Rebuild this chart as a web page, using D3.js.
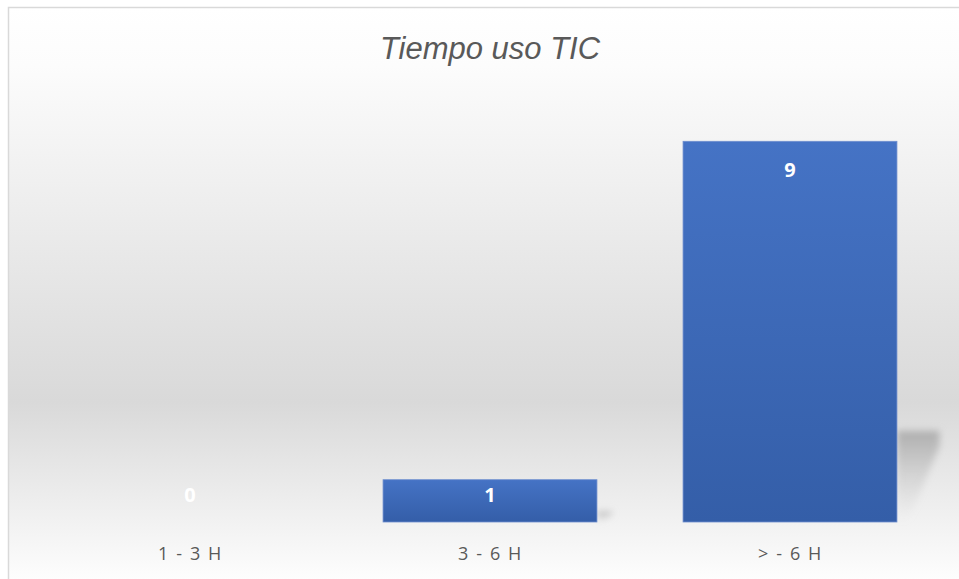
<!DOCTYPE html>
<html>
<head>
<meta charset="utf-8">
<script src="https://cdn.jsdelivr.net/npm/d3@7"></script>
<style>
  body { margin: 0; background: #fff; }
  svg { display: block; }
</style>
</head>
<body>
<svg width="959" height="579"></svg>
<script>
const categories = ['1 - 3 H', '3 - 6 H', '> - 6 H'];
const values = [0, 1, 9];
const chartTitle = 'Tiempo uso TIC';

const svg = d3.select('svg');
const defs = svg.append('defs');

// background gradient, white -> gray -> white
const bgGrad = defs.append('linearGradient').attr('id', 'bgGrad')
  .attr('x1', 0).attr('y1', 0).attr('x2', 0).attr('y2', 1);
bgGrad.append('stop').attr('offset', '0%').attr('stop-color', '#ffffff');
bgGrad.append('stop').attr('offset', '10%').attr('stop-color', '#fcfcfc');
bgGrad.append('stop').attr('offset', '68%').attr('stop-color', '#d9d9d9');
bgGrad.append('stop').attr('offset', '100%').attr('stop-color', '#ffffff');

const barGrad = defs.append('linearGradient').attr('id', 'barGrad')
  .attr('x1', 0).attr('y1', 0).attr('x2', 0).attr('y2', 1);
barGrad.append('stop').attr('offset', '0%').attr('stop-color', '#4573c5');
barGrad.append('stop').attr('offset', '100%').attr('stop-color', '#345ea8');

const shGrad = defs.append('linearGradient').attr('id', 'shGrad')
  .attr('x1', 0).attr('y1', 0).attr('x2', 0).attr('y2', 1);
shGrad.append('stop').attr('offset', '0%').attr('stop-color', '#a8a8a8').attr('stop-opacity', 0.9);
shGrad.append('stop').attr('offset', '100%').attr('stop-color', '#d0d0d0').attr('stop-opacity', 0);

defs.append('filter').attr('id', 'blur').attr('x', '-50%').attr('y', '-50%').attr('width', '200%').attr('height', '200%')
  .append('feGaussianBlur').attr('stdDeviation', 3.5);

// chart box
svg.append('rect')
  .attr('x', 8.5).attr('y', 7.5).attr('width', 960).attr('height', 580)
  .attr('fill', 'url(#bgGrad)').attr('stroke', '#d9d9d9').attr('stroke-width', 1.5);

const x = d3.scaleBand().domain(categories).range([40, 940]).paddingInner(0.287).paddingOuter(0.1435);
const y = d3.scaleLinear().domain([0, 10]).range([522, 99]);

// perspective shadows, height proportional to bar
const shadowG = svg.append('g').attr('filter', 'url(#blur)');
shadowG.selectAll('path').data(values)
  .join('path')
  .attr('d', (d, i) => {
    const h = y(0) - y(d);
    if (h <= 0) return null;
    const x0 = x(categories[i]) + x.bandwidth();
    const top = y(0) - 0.24 * h;
    const w = 12 + 0.08 * h;
    return `M${x0},${top} L${x0 + w},${top} L${x0 + w},${y(0) - 0.22 * h * 0.9} L${x0 + w * 0.25},${y(0)} L${x0},${y(0)} Z`;
  })
  .attr('fill', 'url(#shGrad)');

// bars
svg.append('g').selectAll('rect').data(values)
  .join('rect')
  .attr('x', (d, i) => x(categories[i]))
  .attr('y', d => y(d))
  .attr('width', x.bandwidth())
  .attr('height', d => y(0) - y(d))
  .attr('fill', 'url(#barGrad)')
  .attr('stroke', '#6f8fcf').attr('stroke-width', 0.8)
  .attr('visibility', d => d > 0 ? 'visible' : 'hidden');

// value labels
svg.append('g').selectAll('text').data(values)
  .join('text')
  .attr('x', (d, i) => x(categories[i]) + x.bandwidth() / 2)
  .attr('y', d => Math.min(y(d) + 29, y(0) - 27))
  .attr('dy', '0.35em')
  .attr('text-anchor', 'middle')
  .attr('font-family', 'Open Sans, sans-serif')
  .attr('font-weight', 'bold')
  .attr('font-size', 20)
  .attr('fill', '#ffffff')
  .text(d => d);

// category axis labels
const xAxis = d3.axisBottom(x).tickSize(0).tickPadding(0);
const axisG = svg.append('g').attr('transform', `translate(0,${y(0)})`).call(xAxis);
axisG.select('.domain').remove();
axisG.selectAll('text')
  .attr('y', 38)
  .attr('dy', 0)
  .attr('font-family', 'Open Sans, sans-serif')
  .attr('font-size', 18)
  .attr('letter-spacing', 0.6)
  .attr('word-spacing', 2)
  .attr('fill', '#595959');

// title
svg.append('text')
  .attr('x', 490).attr('y', 59)
  .attr('text-anchor', 'middle')
  .attr('font-family', 'Liberation Sans, Arial, sans-serif')
  .attr('font-style', 'italic')
  .attr('font-size', 31)
  .attr('fill', '#595959')
  .text(chartTitle);
</script>
</body>
</html>
